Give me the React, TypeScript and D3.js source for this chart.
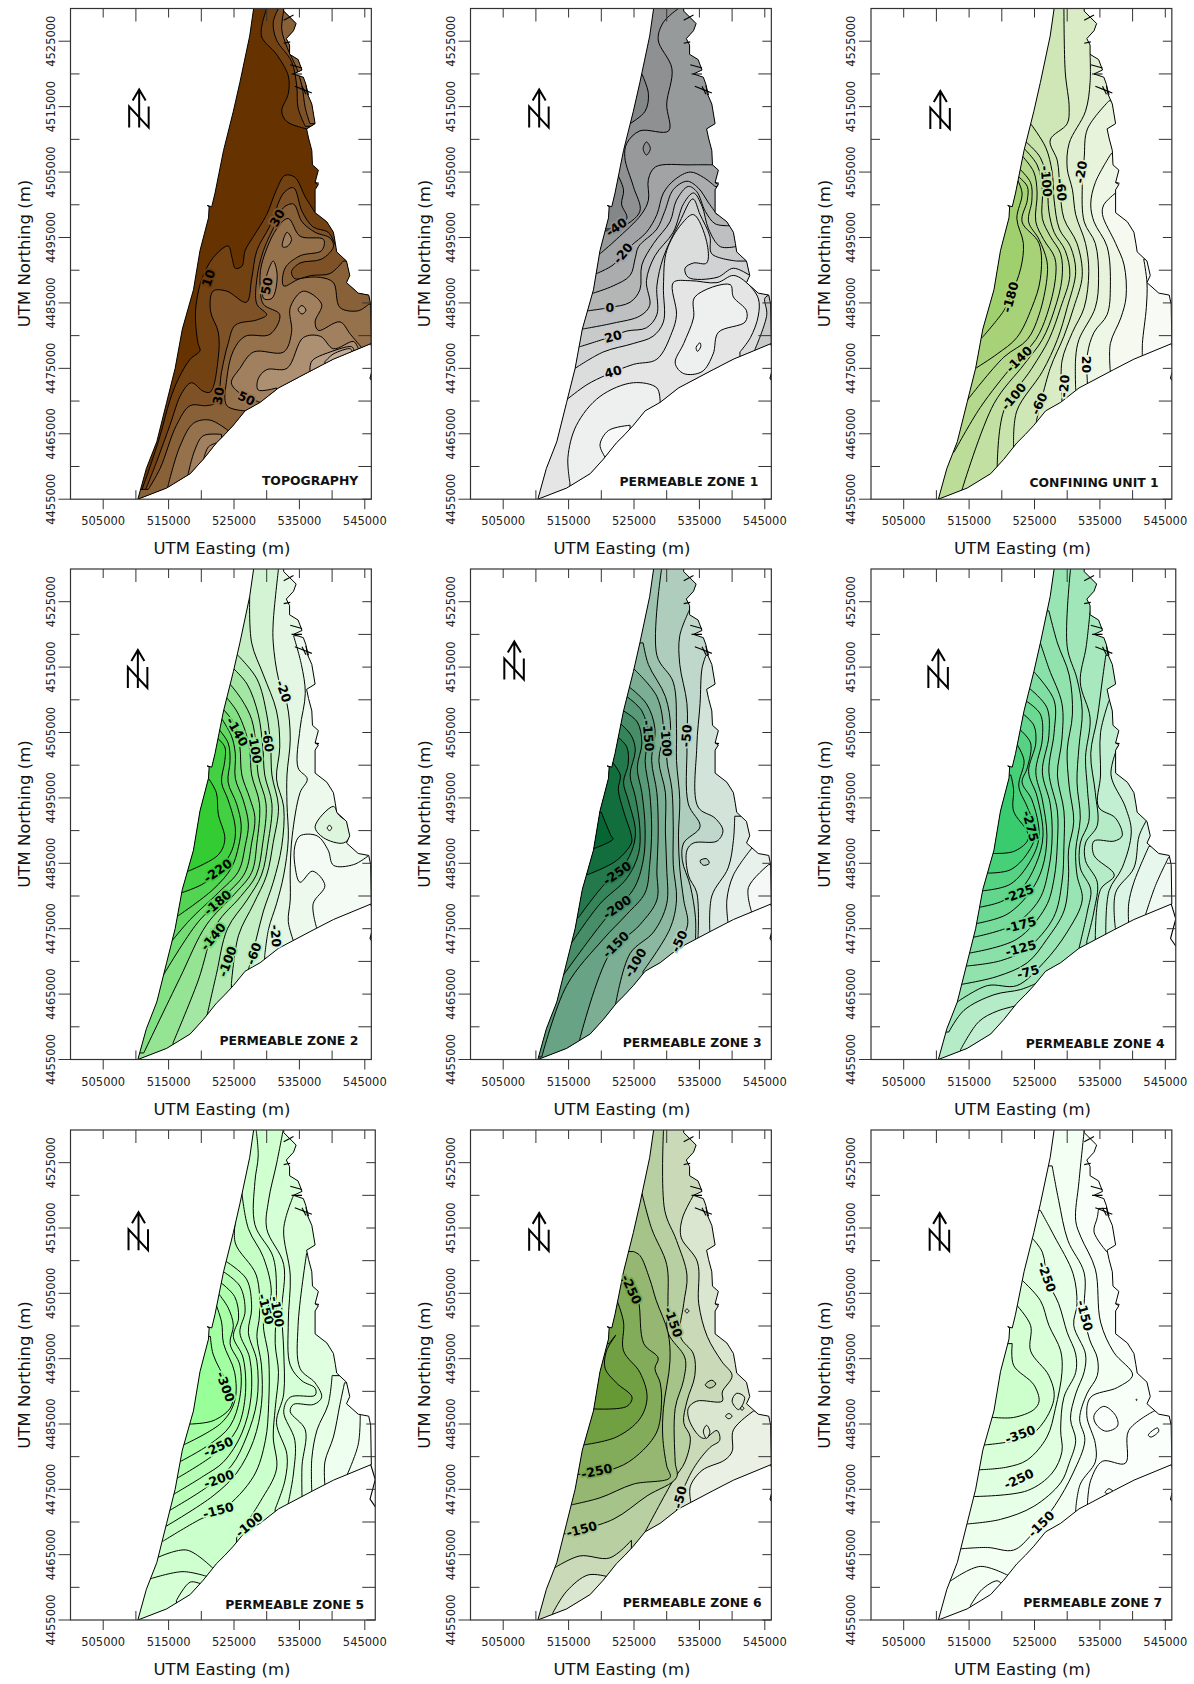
import * as d3 from "d3"

// everything below is in km east of 500000 and km north of 4455000
const westEdge = [10.3,0, 11.6,4.7, 13.2,8.8, 14.7,14.8, 16,20, 17.1,26, 18.8,32, 19.8,38, 21.1,43, 21.2,44.7, 20.9,44.9, 21.6,44.7, 22.1,46.8, 23.4,53.3, 24.9,59.3, 25.9,63.7, 27.4,70.8, 28,75, 28.2,78]
const eastCoast = [32.6,78, 32.6,74.6, 34.5,72.7, 34.1,71.6, 33,70.4, 33.5,69.4, 33.5,68, 34.8,67.2, 35.4,65.6, 34.1,65, 35.6,64.5, 36,63.4, 36.2,62, 36.9,60.4, 37.4,57.4, 36.1,56.6, 36.4,55.2, 36.9,53.3, 37,51.1, 37.9,50.3, 37.4,48.4, 37.9,48.1, 37.4,47.3, 37.4,43.8, 39.2,42.4, 40.2,40.8, 40.5,39.1, 40.7,37.8, 42.2,36.4, 42.7,34.2, 42.2,33.1, 44,31.5, 45.6,31.2, 45.9,29.8, 46,23.8]
const southEdge = [10.3,0, 14.7,1.7, 18.3,3.9, 20.3,6.1, 22.3,8.6, 23.6,9.9, 24.9,11.3, 26.7,13.5, 29,14.8, 31.8,17, 37.1,19.8, 40.2,21.4, 46,23.8, 48,24.6]
const coastDetails = [
  [32.6,73.2, 34.1,74], [32.6,69.7, 33.6,69.9], [33.6,66.4, 35.4,65.9], [33.8,65, 35.4,65],
  [34.3,63.1, 35.6,62.6, 36.9,62.1], [35.4,63.1, 36,61.9], [36,63.2, 36.4,61.8],
  [37.4,48.4, 38,48.3], [45.9,23.8, 46.6,21.5, 45.8,18.5, 46.7,17.2],
]

const panelTitles = ["TOPOGRAPHY", "PERMEABLE ZONE 1", "CONFINING UNIT 1", "PERMEABLE ZONE 2", "PERMEABLE ZONE 3", "PERMEABLE ZONE 4", "PERMEABLE ZONE 5", "PERMEABLE ZONE 6", "PERMEABLE ZONE 7"]
const eastingLimits = [46, 46, 46, 46, 46, 46.6, 46.6, 46, 46]
const titleEnds = [[44,2.8], [44,2.7], [44,2.6], [44,2.9], [44.5,2.6], [44.9,2.4], [44.9,2.3], [44.5,2.6], [44.5,2.6]]
const arrowSpots = [[10.5,56.8], [10.5,56.8], [10.6,56.6], [10.3,56.8], [6.7,58.1], [10.3,56.8], [10.4,56.6], [10.5,56.5], [10.5,56.5]]
const baseValues = [5, -45, 50, 0, 15, 10, 15, 0, -10]
const rampDomains = [[5,85], [-60,65], [50,-210], [10,-230], [15,-30,-300], [10,-75,-290], [15,-40,-310], [0,-300], [0,-430]]
const rampColors = [["#663300","#c4ae98"], ["#7f8283","#f8f8f8"], ["#f8fbf5","#a0cf6e"], ["#f4fbf4","#33cc33"], ["#f5f8f6","#c0d8cb","#056633"], ["#f1f9f3","#a8e8be","#38cc6e"], ["#f4fff4","#d8ffd8","#99ff99"], ["#ebf0e5","#669933"], ["#fcfffc","#ccffcc"]]

const topographyBands = [
  [15, [36.1,56.6, 33.1,57.7, 32.3,59.3, 33.3,62, 33.3,64.7, 31.5,68, 29.2,70.8, 30,75]],
  [25, [35.9,57, 34.8,59.8, 34.6,63.1, 33.8,66.9, 31.5,70.2, 31,72.9, 31.8,75]],
  [35, [36.6,57.4, 35.9,59.8, 35.4,63.1, 34.6,65.8, 33.1,69.1, 32.3,71.8, 32.6,74.6]],
  [15, [10.4,0, 11.9,4.2, 13.7,9.7, 15.2,15.1, 16.5,18.4, 18.3,21.4, 19.8,22.7, 19.5,23.8, 19.1,27.7, 19.3,30.4, 20.1,33.7, 21.8,36.9, 24.1,38.7, 24.7,36.9, 25.2,35.3, 26.2,35.6, 26.7,38, 28,40.2, 30,43.5, 31.5,47.3, 32.8,49.5, 34.3,49.2, 35.9,46.2, 37.4,43.8]],
  [25, [10.9,0, 13.2,5.8, 15.2,11.3, 17,16.2, 18.5,17.8, 20.3,16.5, 21.4,16.4, 22.6,21.7, 22.6,25.5, 21.4,28.8, 21.8,31.8, 23.9,31.8, 26.9,30.1, 27.7,33.7, 28.5,38, 30.5,41.8, 32.6,46.8, 34.1,47.6, 35.4,44, 37.1,41.6, 39.4,40.8, 40.5,38.8]],
  [35, [11.9,1.5, 13.7,4.7, 16.2,11.3, 18.3,14.3, 20.8,14.3, 22.3,14.8, 23.1,19.5, 24.1,23.8, 25.2,26.6, 28.5,27.4, 30,28.2, 28.5,29.8, 28.5,33.7, 29.5,38, 31.5,42.4, 32.6,44.6, 34.1,45.1, 35.4,42.4, 37.4,40.8, 39.7,39.9, 40.2,38.6, 38.4,36.7, 35.1,36.1, 33.8,34.8, 34.3,33.7, 36.9,34.2, 39.7,34.5, 41.7,36.4]],
  [45, [26.7,13.5, 23.9,14.3, 23.9,18.4, 24.9,22.7, 26.7,24.9, 30.5,25.2, 32,28.2, 29.5,29.8, 29,32.6, 29.2,35.8, 31.5,41.3, 33.3,42.9, 35.1,40.2, 38.7,39.7, 38.4,38, 35.1,37.2, 32.8,35.3, 32.6,32.6, 35.1,33.7, 38.2,33.9, 40.2,33.1, 41.2,29.3, 44,28.8, 45.6,29.8]],
  [45, [14.9,2, 16.7,8, 18.8,11.6, 21.3,12.1, 24.1,10.5]],
  [55, [29,14.8, 25.9,16.2, 24.6,17.8, 25.9,20, 28,22.5, 32.6,22.5, 33.8,25.5, 33.6,29.3, 35.6,31.8, 38.4,29.8, 37.4,27.1, 37.9,25.8, 41.2,27.1, 42.8,25.2, 44.5,23.2]],
  [55, [18,3.9, 19,7.5, 20.3,9.7, 23.1,9.9]],
  [65, [31.5,17, 28.7,16.7, 28.7,18.4, 30,19.8, 33.1,20, 35.6,24.7, 38.2,24.9, 40.2,23, 43.3,24.1, 44,23]],
  [65, [20.4,6.3, 21.1,8, 22.3,8.6]],
  [75, [36.6,19.5, 36.9,21.1, 39.7,22.5, 43,23.3, 43.3,22.9]],
  [85, [38.9,21, 40.2,22.2, 42.8,23, 43,22.7]],
]
const topographyIslands = [
  [55, [33.1,40.8, 33.8,39.7, 33.1,38.6, 32.4,38.6]],
  [55, [31,36.4, 31.6,34.2, 30.8,30.7, 29.5,30.7, 30,34.2]],
  [65, [34.8,29, 35.4,29.6, 36,28.9, 35.4,28.3]],
]
const topographyLabels = [["10",21.1,33.8,-72], ["30",31.6,43,-60], ["50",30,32.6,-80], ["30",22.6,15.8,-80], ["50",26.9,15.4,25]]

const zone1Bands = [
  [-35, [21.1,41, 23,41.5, 25.9,44, 24.9,47.8, 23.6,52.2, 23.9,54.4, 25.9,56.3, 30.3,56.3, 30,60.4, 30.8,65.8, 28.7,70.2, 29.5,72.9, 31.8,75]],
  [-55, [26.2,65, 27.2,62, 26.7,59.3, 24.4,57.4]],
  [-55, [22.3,50, 23.4,47.3, 23.1,45.1, 23.9,42.9, 21.3,41.3]],
  [-25, [19.8,37.5, 22.3,39.7, 26.1,43.5, 27.2,45.7, 27.2,48.9, 28.3,50.8, 33.6,51.1, 37.7,51.1]],
  [-15, [19.3,34.5, 21.8,35.8, 24.4,38.6, 26.9,40.8, 28.5,43.5, 29.5,46.8, 31.3,48.9, 33.6,50, 35.6,49.2, 37.4,47.8]],
  [-5, [18.8,31.5, 21.8,32.6, 24.4,34.2, 25.2,36.9, 25.7,38.6, 28.5,41.3, 29.7,44, 31,47.3, 33.1,48.6, 34.8,47.6, 36.4,45.3, 37.7,43.5]],
  [5, [18,28.8, 21.3,29.3, 24.4,30.1, 25.9,32, 26.2,35.8, 28,39.1, 30.5,42.4, 31.5,45.7, 33.3,47.8, 34.6,47, 35.9,44, 37.4,42.1, 39.4,41.8]],
  [15, [17.1,26, 21.8,26.9, 25.9,28, 27.4,29.6, 26.9,33.4, 28.2,37.2, 31,40.8, 32.6,45.2, 34.1,46.8, 35.4,44.8, 36.4,41.3, 38.2,38.6, 40.5,38.6]],
  [25, [16.7,23.3, 20.8,24.6, 23.9,25.7, 26.9,26.2, 28.5,28.2, 28.5,32.6, 29.5,37, 32,42.4, 34,45.9, 35.1,43.5, 36.6,40.2, 36.9,37.5, 40.7,36.4]],
  [35, [16,20, 20.3,22.5, 24.9,23.8, 27.9,24.9, 29.5,27.1, 29.5,32.6, 30,38, 32.3,42.1, 34.1,43.5, 36.1,39.4, 36.1,36.1, 34.1,36.1, 32.8,35.3, 33.3,33.9, 37.7,33.9, 40.2,35.3, 42.7,34.2]],
  [15, [43.5,22.9, 45.3,28.2, 45,30.7, 45.6,31.2]],
  [45, [14.7,15.2, 17.8,17.5, 20.8,19, 24.9,20.6, 28.5,21.4, 30.8,25.5, 31.5,28.2, 31,33.1, 33.6,33.4, 37.7,33.1, 40.2,34.2, 42.2,33.1, 44,30.7, 44,28, 42.8,24.7, 41.2,22.5]],
  [55, [15.2,2.5, 14.9,6.4, 16.2,11.3, 19.8,15.7, 24.9,17.8, 28.5,17, 29,14.8]],
  [65, [20.6,6.4, 19.8,8.3, 21.1,10.5, 24.4,11.3]],
]
const zone1Islands = [
  [55, [34.3,30.9, 39.7,32.8, 40.2,30.9, 42.2,28.8, 42,27.1, 37.9,25.5, 37.1,22.2, 35.4,19.5, 32.6,19.2, 31.3,20.8, 32.6,23.8, 34.1,27.7]],
  [62, [35.1,23.9, 35.2,23.3, 34.7,22.6, 34.5,23.2]],
  [-45, [26.9,54.6, 27.5,53.6, 26.9,52.6, 26.4,53.6]],
]
const zone1Labels = [["-40",22.3,41.6,-35], ["-20",23.3,37.6,-50], ["0",21.3,29.3,0], ["20",21.8,24.9,-15], ["40",21.8,19.5,-15]]

const confiningBands = [
  [40, [41.7,36.7, 42.2,33.1, 42.1,29.3, 41.5,23.8, 41.5,21.7]],
  [20, [37.4,46.8, 35.6,45, 35.4,43.5, 37.4,39.1, 38.7,35.8, 39,30.9, 38.2,27.7, 36.6,23.8, 36.6,19.5]],
  [0, [36.7,52.8, 34.3,48.4, 33.6,45.1, 34.1,42.4, 36.1,38.6, 36.6,32.6, 36.1,28.2, 34.1,25.5, 33.1,22.2, 33.1,17.6]],
  [-20, [36.4,60.9, 33.1,56.6, 32.6,52.2, 32.3,47.8, 32.6,42.4, 34.3,39.1, 34.8,33.7, 34.3,29.3, 31.8,24.4, 31.3,21.7, 31.3,16.7]],
  [-40, [33.5,68, 33.5,63.7, 32.8,59.3, 30.3,54.4, 30,50.6, 30.8,47.3, 31.3,43.5, 32.8,39.1, 33.3,34.8, 32.6,29.3, 30.8,25.5, 29.2,21.1, 29.2,15.7]],
  [-70, [29.5,74.9, 29.7,65.3, 30.3,59.8, 30,57.4, 27.4,54.9, 28.5,51.7, 28.9,47.3, 29.5,42.9, 31.5,39.1, 32.3,34.2, 31,29.3, 29.5,24.9, 27.4,20, 25.3,12]],
  [-90, [24.4,57.4, 26.7,53.8, 27.7,50, 28,45.7, 28.8,41.3, 30.5,38.6, 31.3,34.8, 30,29.3, 28.5,24.4, 26.2,19.5, 22.3,13.5, 21.8,8.4]],
  [-110, [23.6,54.7, 25.9,52.2, 26.9,48.4, 27.2,44, 28,40.8, 29.7,38, 30.4,34.2, 29,29.3, 27.2,24.4, 24.6,20, 20.3,13.5, 19.3,5]],
  [-130, [23.4,53.6, 25.4,51.1, 26.2,47.3, 26.2,42.9, 27.4,40.2, 29,37.5, 29.2,33.7, 28,28.8, 26.2,24.4, 23.4,20.6, 18.8,14.6, 13.9,1.4]],
  [-150, [23.1,52.5, 24.9,50, 25.4,46.8, 25.2,42.4, 26.4,39.7, 28.1,36.9, 28.2,33.7, 26.9,28.2, 25.2,24.4, 21.8,20.6, 16.7,14, 12.7,7.2]],
  [-170, [22.6,50.6, 24.4,48.4, 24.6,45.7, 24.1,42.4, 25.7,39.7, 26.9,36.4, 26.9,33.7, 25.7,28.2, 23.9,24.4, 20.3,21.7, 14.7,15.1]],
  [-190, [22.3,49.5, 23.9,47.8, 23.9,45.7, 23.1,42.4, 25.7,39.1, 25.9,33.7, 24.6,29.3, 22.3,24.7, 19.3,22.2, 16,20]],
  [-210, [22.2,49.2, 23.1,46.8, 22.3,42.9, 23.3,39.1, 22.9,35.3, 21.3,30.9, 20.3,28.8, 17,24.7]],
]
const confiningIslands = []
const confiningLabels = [["-20",32.1,50,-80], ["-60",29.1,47.3,85], ["-100",26.8,48.6,85], ["-180",21.3,30.9,-75], ["-140",22.6,21.4,-45], ["-100",21.8,15.7,-50], ["-60",25.7,14.6,-65], ["-20",29.5,17.3,-85], ["20",33,20.6,90]]

const zone2Bands = [
  [-10, [34.1,64.8, 35.3,60.4, 35.9,56, 35.1,50.6, 34.8,44.6, 36.2,42.9, 35.1,40.8, 33.9,34.2, 33.6,29.3, 33.6,24.4, 33.3,21.1, 34.1,18.1]],
  [10, [37.7,19.9, 37.1,23.8, 38.9,26.6, 37,28.8, 35.1,27.1, 34.3,29.8, 34.3,32.6, 35.1,34.2, 37.7,34.2, 39.4,32, 40.2,29.7, 43.3,29.8, 45.6,31.2]],
  [-30, [31.8,75, 31,66.9, 31,63.7, 31.8,58.2, 33.1,54.4, 33.6,49, 33.1,43.5, 33.1,39.1, 33.3,33.7, 32.6,28.2, 31.5,23.8, 30.3,20, 29.7,15.9]],
  [-50, [27.4,70.8, 27.7,63.7, 29.5,58.8, 31.5,53.3, 32,47.8, 31.5,42.9, 32.6,38.6, 32.3,32.6, 31,27.1, 29.5,22.7, 28.4,18.4, 27.2,13.7]],
  [-70, [25.4,62, 28.5,58.2, 30,52.8, 30.6,47.8, 30.8,43.5, 31.8,38.6, 31,33.2, 30,28.2, 28,23.8, 25.7,19, 24.6,11.6]],
  [-90, [24.9,59.8, 27,57.4, 28.7,52.8, 29.4,47.8, 29.7,43.5, 30.8,39.1, 30.2,33.1, 29.2,28.2, 27,24.4, 24,20, 22.3,13, 20.8,6.4]],
  [-110, [24.4,57.4, 26.2,55, 27.7,52, 28.4,47.8, 28.7,43.5, 29.9,39.1, 29.4,33.1, 28.4,28.2, 26,24.9, 22.3,20.6, 19.5,12, 15.7,2.6]],
  [-130, [23.9,55.3, 25.4,53.3, 26.7,50.3, 27.4,47.3, 27.7,43.5, 28.9,39.1, 28.5,33.1, 27.7,28.6, 25,25.2, 20.8,20.6, 16.7,12.4, 11.2,1]],
  [-150, [23.4,53.5, 25.2,51.1, 25.9,47.8, 26.2,43.5, 27.4,40, 28.2,37, 27.7,33.1, 26.7,28.6, 23.8,25.2, 19.5,21, 14.2,12.9]],
  [-170, [23,52.3, 24.6,49.5, 25.2,46.8, 25.2,43, 26.4,39.7, 27.2,36, 26.7,32.6, 25.7,28.8, 22.6,25.5, 18.3,21.4, 15.4,18]],
  [-190, [22.6,50.6, 24.1,48.4, 24.4,45.7, 24.1,42.4, 25.4,39.1, 26.1,35.8, 25.7,32.6, 24.6,29.3, 21.8,26, 16.5,22]],
  [-210, [22.2,49.4, 23.6,47.8, 23.6,45.7, 23.1,42.4, 24.1,39.7, 25.2,35.5, 24.9,32.6, 23.6,30.1, 20.5,27, 17,25.5]],
  [-230, [21.1,43, 22.3,40.8, 22.6,37.5, 23.6,33.7, 22.6,31.3, 18,28.8]],
]
const zone2Islands = [
  [-20, [37.4,35.6, 40.2,38.7, 41,37.4, 42.5,36.1, 42.8,34.2, 41.7,33.1, 38.7,33.9]],
  [0, [39.6,35.8, 39.95,35.4, 39.6,35, 39.25,35.4]],
]
const zone2Labels = [["-20",32.6,56.3,70], ["-140",25.5,50.1,60], ["-100",28.2,47.6,80], ["-60",30.2,48.7,80], ["-220",22.5,28.9,-35], ["-180",22.5,24,-40], ["-140",21.8,18.8,-50], ["-100",24,15,-70], ["-60",28,16.2,-70], ["-20",31.4,18.9,85]]

const zone3Bands = [
  [5, [45.6,29.8, 42.5,26.3, 43,22.5]],
  [-5, [43,32.3, 40.2,28.2, 39.2,24.4, 39.4,20.7]],
  [-15, [40.4,37.2, 40.2,33.5, 39.4,29.3, 36.9,25, 36.6,19.5]],
  [-30, [36,61.8, 35.4,59.8, 35.1,54.4, 34.6,47.8, 34.8,38.6, 37.4,36.9, 38.6,35, 37.7,33.4, 34.1,33.1, 33.1,32, 33.3,28.2, 34.6,25.5, 34.8,18.9]],
  [-55, [33.6,69, 32,64.8, 32,60.4, 33.1,54.4, 33.1,47.8, 33.3,39.1, 35.1,35.6, 32.6,33.1, 32.4,30.4, 33.6,26.6, 34.4,21.7, 34.4,18.1]],
  [-80, [29.2,74.9, 28.5,61.8, 31,57.7, 31.5,50.6, 31.5,45.7, 32,39.7, 31.8,34.2, 32,29.3, 32.6,24.4, 33.2,20.6, 31.5,17]],
  [-105, [26.4,63.7, 27.2,60.4, 29.8,55.5, 30.6,50.6, 30,46.2, 30.8,41.3, 31,35.8, 31,29.8, 31.5,24.4, 30.5,20, 26.4,13.5]],
  [-130, [24.9,59.8, 28.5,55.5, 29.5,50, 28.8,45.7, 29.8,40.8, 29.8,34.8, 30,29.3, 30,23.8, 28,19.5, 24.4,16.2, 22.1,8]],
  [-155, [24.1,57.1, 26.9,54.4, 28.2,50.6, 27.7,45.7, 28.5,40.8, 28.7,34.8, 28.5,28.8, 28.5,24.4, 25.9,20.6, 21.3,16.2, 16.7,3.1]],
  [-180, [23.9,55.5, 26.2,53.3, 27.2,49.5, 26.7,45.7, 27.4,40.8, 27.7,35.3, 27.4,29.8, 26.7,25.5, 23.9,22.2, 20.3,18.4, 14.7,11.3, 10.9,0.4]],
  [-205, [23.4,53.3, 25.5,51.6, 26.2,48.4, 25.5,44.6, 26.2,40.8, 26.7,35.3, 26.4,30.4, 24.9,26, 20.8,21.7, 14.2,12.9]],
  [-230, [22.9,51.4, 24.6,49.5, 25.2,47.3, 24.4,43.5, 25.2,40.2, 25.9,35.3, 25.7,31.5, 23.9,27.7, 19.8,23.8, 15.3,17.6]],
  [-255, [22.3,49.5, 23.9,47.8, 24.1,45.1, 23.4,42.4, 24.1,39.7, 25.2,35.3, 24.9,32.6, 23.4,29.6, 20.3,26.6, 16.5,21.7]],
  [-280, [21.5,45.7, 22.9,43.5, 22.6,41.3, 23.4,38, 24.6,34.2, 24.6,33.1, 22.3,30.4, 18,28.3]],
  [-300, [20,37.8, 21.5,34.2, 21.8,33.7, 19,32.3]],
]
const zone3Islands = [[-40, [35.1,30.4, 36.1,30.7, 36.5,30, 35.6,29.7]]]
const zone3Labels = [["-150",27.2,49.5,85], ["-100",29.9,48.7,85], ["-50",33,49.5,-85], ["-250",22.4,28.5,-35], ["-200",22.4,23.3,-35], ["-150",22.2,17.6,-45], ["-100",25.2,14.8,-60], ["-50",31.9,18.1,-65]]

const zone4Bands = [
  [0, [45.5,30.9, 43.5,26.6, 41.9,21.9]],
  [-15, [42.5,32.6, 40.2,27.1, 39.4,23.8, 39.4,20.7]],
  [-30, [42.2,36.7, 41,34.2, 40.2,29.3, 37.4,25.5, 37.4,19.8]],
  [-45, [37.7,47.8, 36.7,43.5, 38.9,38.6, 39.8,34.8, 38.4,29.3, 36.4,25.8, 35.9,18.9]],
  [-60, [36.4,54.9, 35.1,50, 35.1,43.5, 34.8,38.6, 37.4,36.9, 38.4,34.2, 37.2,33.4, 34.1,33.4, 34.1,31.2, 37.2,28.2, 35.1,26, 34.3,18.9]],
  [-75, [35.9,61.8, 35.4,58.2, 34.6,52.2, 33.6,46.8, 34.3,40.8, 34.6,35.8, 32.8,33.1, 32.8,30.4, 34.6,27.1, 34.1,22.7, 33,18.1]],
  [-90, [33.5,68.5, 32.9,63.1, 32,57.7, 33.5,52.2, 32.8,46.2, 33.1,41.3, 33.3,36.4, 32,33.1, 32,29.3, 33.6,26, 33.1,22.7, 31.8,17]],
  [-105, [30.5,74.9, 30,63.1, 31.5,58.2, 32.3,53.3, 31.8,47.8, 31.5,42.4, 32,36.9, 31.3,32, 31.5,28.2, 32.3,24.4, 30,19.5, 26.4,14.8, 22.3,11.3, 17.8,11.3, 13.2,8.8]],
  [-120, [27.2,68.6, 28.5,63.7, 30.3,58.8, 30.8,52.8, 30,47.3, 30.3,41.8, 31,36.4, 30.2,32, 30.2,27.7, 29.5,22.7, 26.9,18.4, 23.9,14.8, 19.3,12.7, 13.9,11.5]],
  [-135, [25.9,63.7, 27.2,59.8, 29.2,54.4, 29.2,49, 28.5,43.5, 29.5,38, 29.5,32.6, 29.2,27.1, 27.9,21.7, 23.9,17, 19.8,15.1, 14.7,14.3]],
  [-150, [24.9,59.3, 28,54.9, 28,50, 27.2,44, 28.5,38, 28.5,33.1, 28,27.7, 26.7,23.3, 22.3,18.4, 15.2,16.3]],
  [-170, [24.4,56.6, 26.9,53.8, 27.2,49.5, 26.2,44, 27.4,39.1, 27.7,34.2, 27.2,29.3, 25.7,24.4, 21.8,20.6, 15.7,18.7]],
  [-190, [23.9,54.7, 25.9,52.8, 26.2,49, 25.2,44, 26.2,39.7, 26.9,34.2, 26.2,29.3, 24.4,25.7, 20.8,22.2, 16.2,20.8]],
  [-210, [23.3,52.8, 24.9,51.1, 25.2,48.4, 24.1,44, 25.4,40.2, 26.3,34.2, 25.2,29.8, 22.9,26, 19.8,24.1, 16.7,23.3]],
  [-235, [22.6,50.6, 24.4,48.4, 23.9,44.6, 23.1,42.4, 24.6,39.7, 25.7,34.2, 24.4,30.4, 21.3,26.8, 17.1,25.8]],
  [-260, [22.2,48.4, 23.4,45.7, 22.6,41.8, 23.9,38.6, 25.2,34.8, 23.9,31.5, 21.3,29, 18,28.5]],
  [-290, [21.4,43.5, 21.8,41.3, 21.8,38, 23.9,34.8, 23.9,33.4, 21.8,31.8, 18.9,31.5]],
  [-60, [11.9,4.2, 14.2,7.5, 18.8,9.9, 22.9,10.7, 25.4,11.7]],
  [-45, [13.7,1.5, 16.5,5.8, 19.3,7.4, 22.6,8.3]],
]
const zone4Islands = []
const zone4Labels = [["-275",24.4,35.7,75], ["-225",22.6,25.4,-20], ["-175",22.9,20.6,-15], ["-125",22.9,17,-15], ["-75",24,13.4,-15]]

const zone5Bands = [
  [5, [44.3,31.6, 44,26.9, 42.2,22]],
  [-10, [41.9,36.3, 41.2,33, 40.2,28, 38.9,24.2, 38.9,20.6]],
  [-25, [40,37.4, 39.4,33, 37.7,29.1, 36.9,24.7, 36.9,19.5]],
  [-40, [36.1,56.1, 34.8,45.1, 35.1,38.5, 37.4,36.3, 38.4,34.1, 37.2,33, 34.1,33, 33.6,31.9, 35.9,29.1, 35.4,23.6, 35.4,19]],
  [-55, [34.1,65, 32.6,59.9, 33.6,52.8, 33.3,45.6, 33.6,39, 35.4,36.6, 37.4,35.5, 37.4,34.4, 33.6,34.1, 32.6,31.9, 34.3,27.5, 34.1,22.5, 33.3,17.9]],
  [-75, [32.5,74.9, 31.5,69.8, 30.3,64.3, 30,59.9, 32.6,54.4, 32.3,47.3, 32.6,41.2, 32.6,34.6, 31.5,30.2, 33.1,25.3, 32.8,21.4, 31.3,17]],
  [-95, [28.4,74.9, 28.7,71, 28.2,67.1, 28.2,60.5, 31,55.5, 31.5,48.9, 31.3,42.3, 31.8,37.9, 31.3,32.4, 31,28, 31.5,23.1, 29,18.1, 25.4,12.6]],
  [-120, [26.2,65.4, 27.2,59.9, 29.5,55.5, 30.7,50, 29.5,45.6, 30.3,40.1, 30.3,33, 29.8,27.5, 28,22, 23.4,17, 19.8,15.4, 14.2,12.1]],
  [-145, [25.3,61.6, 25.2,57.7, 28.4,52.8, 28.9,46.7, 28.5,43.4, 29.2,39, 29.2,33, 28,27.5, 25.4,22.5, 21.8,19, 14.7,14.4]],
  [-170, [23.6,55, 26.9,52.2, 27.7,47.8, 27.2,44, 28.5,39.6, 28.5,33.5, 26.9,28, 24.6,23.6, 20.8,20.3, 15.2,16.8]],
  [-195, [23.4,53.3, 25.9,51.1, 26.7,47.3, 25.9,44, 27.4,40.1, 27.6,34.1, 26.2,28.6, 23.4,24.2, 20.3,22, 15.7,19.2]],
  [-220, [22.9,51.7, 25.1,49.5, 25.7,46.2, 24.9,43.4, 26.4,40.1, 26.7,34.1, 25.4,29.1, 22.3,25.6, 16.3,21.7]],
  [-245, [22.6,50, 24.1,47.8, 24.9,45.1, 24.4,42.3, 25.9,39, 25.9,34.1, 24.4,29.7, 21.3,26.9, 16.7,24.2]],
  [-270, [22.1,48.7, 23.1,45.6, 23.4,42.3, 25.1,37.9, 25.1,33.5, 23.1,30.2, 17.5,26.9]],
  [-310, [21.4,43.4, 21.8,40.7, 23.9,36.3, 24.8,34.1, 24.4,32.4, 21.8,30.5, 18.5,30]],
  [-80, [13.4,9.6, 17.8,10.7, 22,7.7]],
  [-55, [12.2,6.3, 17.2,7.4, 21.1,6.6]],
  [-30, [16.2,3, 18.3,5.8, 20,5.5]],
]
const zone5Islands = []
const zone5Labels = [["-150",29.9,47.6,75], ["-100",31.6,47.2,80], ["-300",23.7,35.7,70], ["-250",22.6,26.5,-25], ["-200",22.7,21.6,-20], ["-150",22.6,16.8,-15], ["-100",27.3,14.6,-40]]

const zone6Bands = [
  [-35, [43.3,32, 40.2,29.1, 40,25.8, 38.9,24.5, 35.4,22.9, 33.6,20.4, 33.7,18]],
  [-75, [34.1,65, 32.4,61.5, 32.2,58.6, 34.7,54.8, 34.9,48.4, 36.2,43.4, 38.4,39.6, 40,37.4, 38.5,34.9, 38.5,33.5, 34.6,33.5, 33.3,32.4, 33.6,30.2, 35.6,27.8, 37.7,29, 38.1,27.5, 36.6,26.4, 34.1,23.2, 31.5,17.6]],
  [-115, [29.5,74.8, 29.7,62.7, 31.5,58.1, 33.1,52.8, 32.6,48.4, 32.1,43.4, 34.1,40.7, 34.3,37.4, 33.1,33.5, 32.6,30.2, 33.6,28, 32.8,24.2, 31,21.4, 26.7,13.5]],
  [-155, [26.2,65.4, 27.7,59.9, 30,54.4, 30.2,48.9, 30.2,44, 32.8,40.1, 32.6,36.8, 31.3,32.4, 31.3,24.2, 31.5,21.8, 27,19, 21.8,15.4, 14.7,13.2]],
  [-195, [24.9,56.4, 25.9,55.8, 27.4,52.2, 28.4,48.9, 30.2,44, 30.5,39.6, 29.5,32.4, 29.4,28, 30,23.6, 30.5,21.8, 24.9,20.8, 19.8,18.7, 15.3,17.6]],
  [-235, [22.9,52.2, 24.9,50.6, 25.7,48.7, 26.5,42.3, 28.7,40.1, 28.2,38.5, 29,36.3, 29.2,33, 28.4,28.6, 24.9,24.7, 21.8,23.1, 17.2,22.3]],
  [-275, [22.3,49.2, 23.4,45.6, 23.4,41.2, 25.9,37.9, 27,34.1, 25.9,30.8, 22.3,28, 17.3,26.8]],
  [-300, [21.2,42.3, 22.2,43.6, 20.8,41.2, 20.6,38.5, 22.3,36.3, 24.7,34.1, 23.9,32.7, 19,32.3]],
  [-75, [12.9,8, 16.7,9.8, 21.3,9.5, 24.6,12.2]],
  [-35, [12.6,1.1, 14.7,4.4, 18,6.9, 21.1,6.6]],
]
const zone6Islands = [
  [-115, [35.9,36, 36.9,36.7, 37.5,36.1, 36.6,35.5]],
  [-35, [40,33.5, 40.7,34.7, 41.9,34.1, 41,32.2]],
  [-35, [39,31.2, 39.5,31.6, 40,31.2, 39.5,30.8]],
  [-35, [41.3,32.4, 41.5,32.7, 41.8,32.4, 41.5,32.1]],
  [-35, [35.6,28.9, 36.1,29.8, 36.6,28.8, 36.1,27.8]],
  [-75, [32.8,47.3, 33.1,47.6, 33.4,47.3, 33.1,47]],
]
const zone6Labels = [["-250",24.6,50.6,65], ["-150",31,45.6,70], ["-250",19.3,22.8,-12], ["-150",17,13.9,-15], ["-50",32,18.8,-75]]

const zone7Bands = [
  [-40, [43.3,32, 39.4,29, 38.9,24, 35.4,24.3, 33.6,21.4, 33.1,17.9]],
  [-10, [36.1,56.3, 34.1,59.4, 34.6,61.6, 34.8,63]],
  [-75, [32.6,74.9, 31.8,67.1, 31.3,61.1, 32.1,58.6, 34.3,53.7, 35.1,45.6, 37.1,41, 40,37.5, 37.7,35.6, 33.6,34.1, 33,31.3, 34.3,27, 34.3,24.2, 32,20.8, 31.3,16.9]],
  [-130, [27.7,69.5, 28.7,64.2, 30.1,58.1, 32.6,53.1, 32.6,47, 33.4,43, 34.6,40.1, 34.6,37.4, 33,34.6, 31.9,30.8, 32.7,27.5, 30.9,22.5, 28.1,17.5, 24.6,13.1, 21.8,10.7, 17.8,11.1, 13.8,10.9]],
  [-190, [25.9,62.7, 28,58.8, 30.9,53, 31.5,48.4, 31,45.1, 32.8,40.7, 32.6,38, 31.3,34.6, 30.5,30.8, 31.3,27.5, 30.3,24, 29,21, 24.9,17.4, 19.8,15.4, 14.7,14.7]],
  [-250, [24.6,58.5, 26.2,56.3, 27,52, 28.7,48.4, 30,44, 31.3,40.7, 31.3,37.9, 29.5,34.1, 29,29.1, 29.2,25.8, 27.7,22.5, 23.9,19.8, 15.8,18.9]],
  [-310, [22.9,52.2, 25.9,48.9, 27.2,45.1, 29,41.2, 29.2,37.9, 28.2,32.4, 26.9,28, 23.9,24.5, 20.8,23.4, 16.7,23]],
  [-370, [22.1,48.4, 24.4,45.1, 24.4,41.2, 27.2,37.4, 28,34.1, 26.4,30.3, 23.9,28, 17.4,26.8]],
  [-430, [21.6,42.3, 21.8,39, 24.9,36, 25.7,33.5, 24.9,32.2, 21.8,31, 18.8,31]],
  [-75, [12.2,6, 16.7,8.2, 21.2,6.7]],
  [-40, [15.2,2.2, 17,4.7, 19.3,6, 20,5.5]],
]
const zone7Islands = [
  [-10, [34.1,31.3, 35.6,32.7, 37.4,31.3, 37.7,29.7, 35.9,28.9, 34.4,30]],
  [-40, [42.4,28.3, 43.8,29.4, 44,28.9, 42.8,28]],
  [-75, [35.8,19.5, 36.4,20.1, 37.4,19.2, 36.4,19.3]],
  [-430, [40.5,33.7, 40.6,33.8, 40.7,33.7, 40.6,33.6]],
]
const zone7Labels = [["-250",26.9,52.5,70], ["-150",32.7,46.6,75], ["-350",22.8,28.4,-20], ["-250",22.6,21.6,-25], ["-150",26,14.7,-45]]

const allBands = [topographyBands, zone1Bands, confiningBands, zone2Bands, zone3Bands, zone4Bands, zone5Bands, zone6Bands, zone7Bands]
const allIslands = [topographyIslands, zone1Islands, confiningIslands, zone2Islands, zone3Islands, zone4Islands, zone5Islands, zone6Islands, zone7Islands]
const allLabels = [topographyLabels, zone1Labels, confiningLabels, zone2Labels, zone3Labels, zone4Labels, zone5Labels, zone6Labels, zone7Labels]

const majorEastings = [505000, 515000, 525000, 535000, 545000]
const minorEastings = [510000, 520000, 530000, 540000]
const majorNorthings = [4455000, 4465000, 4475000, 4485000, 4495000, 4505000, 4515000, 4525000]
const minorNorthings = [4460000, 4470000, 4480000, 4490000, 4500000, 4510000, 4520000]

const columnLefts = [70.5, 470.5, 871]
const rowTops = [8.5, 569, 1130]
const rowBottoms = [499.2, 1059.5, 1620]
const pxPerKm = 6.54

const toPairs = flat => d3.range(0, flat.length, 2).map(i => [flat[i], flat[i + 1]])
const west = toPairs(westEdge)
const south = toPairs(southEdge)
const coastline = [...west, ...toPairs(eastCoast), ...south.slice().reverse().slice(1)]

const lookup = (pts, key, val) => {
  for (let i = 1; i < pts.length; i++) {
    const a = pts[i - 1], b = pts[i]
    if (val >= a[key] && val <= b[key] && b[key] !== a[key]) return a[1 - key] + (b[1 - key] - a[1 - key]) * (val - a[key]) / (b[key] - a[key])
  }
  return key === 1 ? pts[pts.length - 1][0] : pts[pts.length - 1][1]
}

// the outside ring a contour closes along, clockwise, so its fill is always on the right hand
const R = { w: -10, e: 70, s: -10, n: 90 }
const corners = { 0: [R.w, R.s], 100: [R.w, R.n], 180: [R.e, R.n], 280: [R.e, R.s] }
const project = ([e, n]) => {
  if (n >= 74) return { p: [e, R.n], t: 100 + e - R.w }
  if (e <= lookup(west, 1, n) + 1.5) return { p: [R.w, n], t: n - R.s }
  if (n <= lookup(south, 0, e) + 2.5) return { p: [e, R.s], t: 280 + R.e - e }
  return { p: [R.e, n], t: 180 + R.n - n }
}
const ringAround = pts => {
  const from = project(pts[pts.length - 1])
  const to = project(pts[0])
  const end = to.t <= from.t ? to.t + 360 : to.t
  const via = [0, 100, 180, 280, 360, 460, 540, 640].filter(c => c > from.t && c < end).map(c => corners[c % 360])
  return [from.p, ...via, to.p]
}

const Panel = ({ index }) => {
  const col = index % 3
  const row = Math.floor(index / 3)
  const left = columnLefts[col]
  const top = rowTops[row]
  const bottom = rowBottoms[row]
  const limit = eastingLimits[index]
  const right = left + limit * pxPerKm

  const xUtm = d3.scaleLinear().domain([500000, 500000 + limit * 1000]).range([left, right])
  const yUtm = d3.scaleLinear().domain([4455000, 4530000]).range([bottom, top])
  const px = ([e, n]) => [xUtm(500000 + e * 1000), yUtm(4455000 + n * 1000)]
  const ramp = d3.scaleLinear().domain(rampDomains[index]).range(rampColors[index]).clamp(true)

  const smooth = d3.line().x(d => px(d)[0]).y(d => px(d)[1]).curve(d3.curveCatmullRom.alpha(0.5))
  const loop = d3.line().x(d => px(d)[0]).y(d => px(d)[1]).curve(d3.curveCatmullRomClosed.alpha(0.5))
  const straight = d3.line().x(d => px(d)[0]).y(d => px(d)[1])

  const regionPath = straight(coastline) + "Z"
  const clipFrame = `frame-${index}`
  const clipRegion = `region-${index}`
  const [arrowE, arrowN] = px(arrowSpots[index])
  const [titleX, titleY] = px(titleEnds[index])

  return (
    <g>
      <defs>
        <clipPath id={clipFrame}><rect x={left} y={top} width={right - left} height={bottom - top} /></clipPath>
        <clipPath id={clipRegion}><path d={regionPath} /></clipPath>
      </defs>

      <g clipPath={`url(#${clipFrame})`}>
        <g clipPath={`url(#${clipRegion})`}>
          <rect x={left} y={top} width={right - left} height={bottom - top} fill={ramp(baseValues[index])} />
          {allBands[index].map(([value, flat], i) => {
            const pts = toPairs(flat)
            const d = smooth(pts) + straight(ringAround(pts)).replace("M", "L") + "Z"
            return <path key={i} d={d} fill={ramp(value)} stroke="#000" strokeWidth={1} />
          })}
          {allIslands[index].map(([value, flat], i) => (
            <path key={i} d={loop(toPairs(flat))} fill={ramp(value)} stroke="#000" strokeWidth={1} />
          ))}
        </g>
        <path d={regionPath} fill="none" stroke="#000" strokeWidth={1} />
        {coastDetails.map((flat, i) => (
          <path key={i} d={straight(toPairs(flat))} fill="none" stroke="#000" strokeWidth={1.1} />
        ))}
      </g>

      {allLabels[index].map(([text, e, n, angle], i) => {
        const [lx, ly] = px([e, n])
        return (
          <text key={i} transform={`translate(${lx},${ly}) rotate(${angle})`} textAnchor="middle" dy="0.36em"
            fontFamily="DejaVu Sans" fontSize={12.5} fontWeight={600} fill="#000"
            stroke={ramp(index === 0 ? Number(text) : Number(text) - 5)} strokeWidth={3.5} paintOrder="stroke">{text}</text>
        )
      })}

      <text x={titleX} y={titleY} dy="0.36em" textAnchor="end" fontFamily="DejaVu Sans" fontSize={12.4} fontWeight={700} fill="#111">{panelTitles[index]}</text>

      <g fill="none" stroke="#000" strokeWidth={2} transform={`translate(${arrowE},${arrowN})`}>
        <path d="M0,0V-38M-6.5,-27L0,-38L6.5,-27" />
        <path d="M-10,0V-21L9.5,0V-21" />
      </g>

      <rect x={left} y={top} width={right - left} height={bottom - top} fill="none" stroke="#333" strokeWidth={1.2} />

      <g stroke="#333" strokeWidth={1}>
        {majorEastings.map(v => (
          <g key={v}>
            <line x1={xUtm(v)} x2={xUtm(v)} y1={bottom} y2={bottom + 10} />
            <line x1={xUtm(v)} x2={xUtm(v)} y1={top} y2={top + 9} />
          </g>
        ))}
        {minorEastings.map(v => (
          <g key={v}>
            <line x1={xUtm(v)} x2={xUtm(v)} y1={bottom} y2={bottom - 9} />
            <line x1={xUtm(v)} x2={xUtm(v)} y1={top} y2={top + 13} />
          </g>
        ))}
        {majorNorthings.map(v => (
          <g key={v}>
            <line x1={left - 12} x2={left} y1={yUtm(v)} y2={yUtm(v)} />
            <line x1={right - 9} x2={right} y1={yUtm(v)} y2={yUtm(v)} />
          </g>
        ))}
        {minorNorthings.map(v => (
          <g key={v}>
            <line x1={left} x2={left + 9} y1={yUtm(v)} y2={yUtm(v)} />
            <line x1={right - 13} x2={right} y1={yUtm(v)} y2={yUtm(v)} />
          </g>
        ))}
      </g>

      <g fontFamily="DejaVu Sans" fontSize={11.5} fill="#222" textAnchor="middle">
        {majorEastings.map(v => <text key={v} x={xUtm(v)} y={bottom + 26}>{v}</text>)}
        {majorNorthings.map(v => (
          <text key={v} transform={`translate(${left - 16},${yUtm(v)}) rotate(-90)`}>{v}</text>
        ))}
      </g>
      <g fontFamily="DejaVu Sans" fontSize={16.5} fill="#111" textAnchor="middle">
        <text x={left + 151.5} y={bottom + 55}>UTM Easting (m)</text>
        <text transform={`translate(${left - 41},${top + 245}) rotate(-90)`}>UTM Northing (m)</text>
      </g>
    </g>
  )
}

const App = () => (
  <svg width={1194} height={1684} viewBox="0 0 1194 1684" style={{ position: "absolute", left: 0, top: 0, background: "#fff" }}>
    {panelTitles.map((t, i) => <Panel key={t} index={i} />)}
  </svg>
)

export default App
